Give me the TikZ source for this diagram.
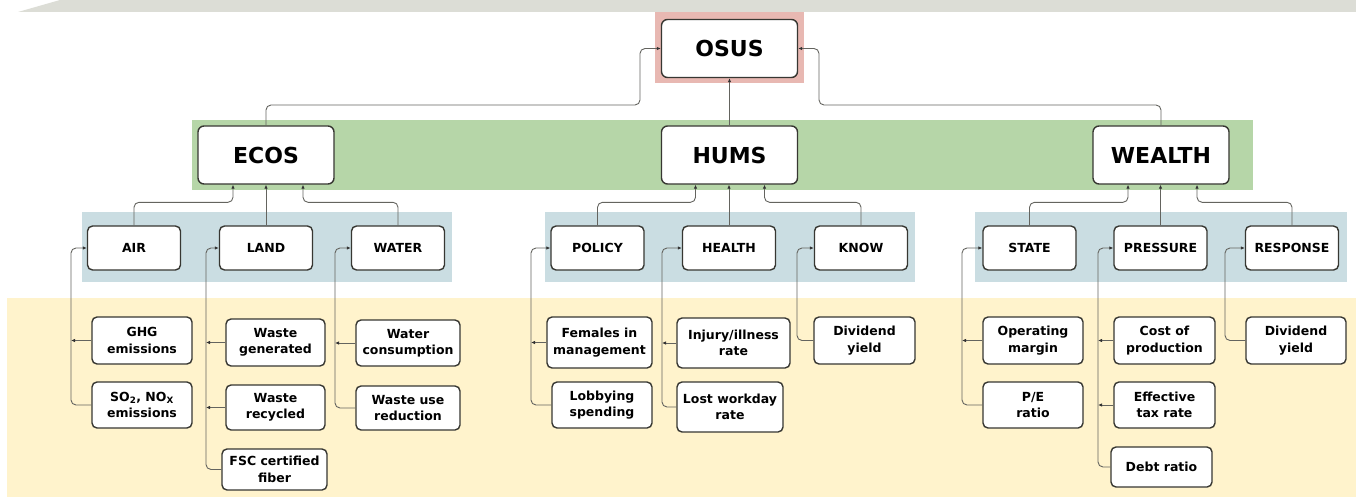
\documentclass[tikz,border=0pt]{standalone}
\usepackage{fontspec}
\setmainfont{DejaVu Sans}
\usetikzlibrary{arrows.meta}
\definecolor{topgray}{RGB}{220,221,214}
\definecolor{pinkbg}{RGB}{232,184,178}
\definecolor{greenbg}{RGB}{182,214,168}
\definecolor{bluebg}{RGB}{202,221,226}
\definecolor{yellowbg}{RGB}{255,243,204}
\definecolor{boxline}{RGB}{55,55,50}
\definecolor{connline}{RGB}{100,100,95}
\tikzset{
  lvlone/.style={draw=boxline, line width=1.4pt, rounded corners=6pt, fill=white,
    minimum width=136pt, minimum height=58pt, font=\bfseries\fontsize{22}{24}\selectfont, inner sep=0pt},
  lvltwo/.style={draw=boxline, line width=1.4pt, rounded corners=5pt, fill=white,
    minimum width=93pt, minimum height=44pt, font=\bfseries\fontsize{12.5}{15}\selectfont, inner sep=0pt},
  lvlthree/.style={draw=boxline, line width=1.4pt, rounded corners=5pt, fill=white,
    minimum width=100pt, minimum height=46pt, align=center,
    font=\bfseries\fontsize{12.5}{16.5}\selectfont, inner sep=0pt},
  conn/.style={draw=connline, line width=0.9pt, rounded corners=5pt},
  arr/.style={-{Latex[length=4pt,width=3.5pt,color=black!80]}},
}
\begin{document}
\begin{tikzpicture}[x=1pt,y=-1pt]
\useasboundingbox (0,0) rectangle (1356,500);
% backgrounds
\fill[topgray] (18,12) -- (60,0) -- (1356,0) -- (1356,12) -- cycle;
\fill[yellowbg] (7,298) rectangle (1356,497);
\fill[pinkbg] (655,12) rectangle (804,83);
\fill[greenbg] (192,120) rectangle (1253,190);
\fill[bluebg] (82,212) rectangle (452,282);
\fill[bluebg] (545,212) rectangle (915,282);
\fill[bluebg] (975,212) rectangle (1347,282);

% level 0 and 1
\node[lvlone] (osus) at (729.5,48.5) {OSUS};
\node[lvlone] (ecos) at (266,155) {ECOS};
\node[lvlone] (hums) at (729.5,155) {HUMS};
\node[lvlone] (wealth) at (1161,155) {WEALTH};

% level 2
\node[lvltwo] (air) at (134,248) {AIR};
\node[lvltwo] (land) at (266,248) {LAND};
\node[lvltwo] (water) at (398,248) {WATER};
\node[lvltwo] (policy) at (597.5,248) {POLICY};
\node[lvltwo] (health) at (729,248) {HEALTH};
\node[lvltwo] (know) at (861,248) {KNOW};
\node[lvltwo] (state) at (1029.5,248) {STATE};
\node[lvltwo] (pressure) at (1160.5,248) {PRESSURE};
\node[lvltwo] (response) at (1292,248) {RESPONSE};

% level 3
\node[lvlthree, minimum height=47pt] (ghg) at (142,340.5) {GHG\\emissions};
\node[lvlthree] (so2) at (142,405) {SO\textsubscript{2}, NO\textsubscript{X}\\emissions};
\node[lvlthree, minimum width=99pt, minimum height=47pt] (wgen) at (275.5,342.5) {Waste\\generated};
\node[lvlthree, minimum width=99pt, minimum height=45pt] (wrec) at (275.5,407.5) {Waste\\recycled};
\node[lvlthree, minimum width=105pt, minimum height=41pt] (fsc) at (274.5,469.5) {FSC certified\\fiber};
\node[lvlthree, minimum width=104pt] (wcons) at (408,343) {Water\\consumption};
\node[lvlthree, minimum width=104pt, minimum height=44pt] (wuse) at (408,408) {Waste use\\reduction};
\node[lvlthree, minimum width=105pt, minimum height=51pt] (fem) at (599.5,342.5) {Females in\\management};
\node[lvlthree] (lob) at (602,405) {Lobbying\\spending};
\node[lvlthree, minimum width=113pt, minimum height=50pt] (inj) at (733.5,343) {Injury/illness\\rate};
\node[lvlthree, minimum width=106pt, minimum height=50pt] (lost) at (730,407) {Lost workday\\rate};
\node[lvlthree, minimum width=101pt, minimum height=47pt] (div1) at (864.5,340.5) {Dividend\\yield};
\node[lvlthree, minimum height=47pt] (opm) at (1033,340.5) {Operating\\margin};
\node[lvlthree] (pe) at (1033,405) {P/E\\ratio};
\node[lvlthree, minimum width=101pt, minimum height=47pt] (cost) at (1164.5,340.5) {Cost of\\production};
\node[lvlthree, minimum width=101pt] (eff) at (1164.5,405) {Effective\\tax rate};
\node[lvlthree, minimum width=101pt, minimum height=40pt] (debt) at (1161.5,467) {Debt ratio};
\node[lvlthree, minimum height=47pt] (div2) at (1296,340.5) {Dividend\\yield};

% trunk coordinates
\coordinate (tair) at (71,0);
\coordinate (tland) at (206,0);
\coordinate (twater) at (335,0);
\coordinate (tpolicy) at (531,0);
\coordinate (thealth) at (662,0);
\coordinate (tknow) at (797,0);
\coordinate (tstate) at (962,0);
\coordinate (tpressure) at (1098,0);
\coordinate (tresponse) at (1225,0);

% level 1 -> OSUS
\coordinate (jl) at (640,105);
\coordinate (jr) at (819,105);
\draw[conn,arr] (ecos.north) |- (jl) |- (osus.west);
\draw[conn,arr] (wealth.north) |- (jr) |- (osus.east);
\draw[conn,arr] (hums.north) -- (osus.south);

% level 2 -> level 1
\draw[conn,arr] (air.north) -- ++(0,-23) -| ([xshift=-33pt]ecos.south);
\draw[conn,arr] (land.north) -- (land.north |- ecos.south);
\draw[conn,arr] (water.north) -- ++(0,-23) -| ([xshift=37pt]ecos.south);
\draw[conn,arr] (policy.north) -- ++(0,-23) -| ([xshift=-34pt]hums.south);
\draw[conn,arr] (health.north) -- (health.north |- hums.south);
\draw[conn,arr] (know.north) -- ++(0,-23) -| ([xshift=35pt]hums.south);
\draw[conn,arr] (state.north) -- ++(0,-23) -| ([xshift=-33pt]wealth.south);
\draw[conn,arr] (pressure.north) -- (pressure.north |- wealth.south);
\draw[conn,arr] (response.north) -- ++(0,-23) -| ([xshift=36pt]wealth.south);

% level 3 -> level 2 : trunks
\draw[conn,arr] (so2.west) -- (so2.west -| tair) -- (air.west -| tair) -- (air.west);
\draw[conn,arr] (ghg.west) -- (ghg.west -| tair);
\draw[conn,arr] (fsc.west) -- (fsc.west -| tland) -- (land.west -| tland) -- (land.west);
\draw[conn,arr] (wgen.west) -- (wgen.west -| tland);
\draw[conn,arr] (wrec.west) -- (wrec.west -| tland);
\draw[conn,arr] (wuse.west) -- (wuse.west -| twater) -- (water.west -| twater) -- (water.west);
\draw[conn,arr] (wcons.west) -- (wcons.west -| twater);
\draw[conn,arr] (lob.west) -- (lob.west -| tpolicy) -- (policy.west -| tpolicy) -- (policy.west);
\draw[conn,arr] (fem.west) -- (fem.west -| tpolicy);
\draw[conn,arr] (lost.west) -- (lost.west -| thealth) -- (health.west -| thealth) -- (health.west);
\draw[conn,arr] (inj.west) -- (inj.west -| thealth);
\draw[conn,arr] (div1.west) -- (div1.west -| tknow) -- (know.west -| tknow) -- (know.west);
\draw[conn,arr] (pe.west) -- (pe.west -| tstate) -- (state.west -| tstate) -- (state.west);
\draw[conn,arr] (opm.west) -- (opm.west -| tstate);
\draw[conn,arr] (debt.west) -- (debt.west -| tpressure) -- (pressure.west -| tpressure) -- (pressure.west);
\draw[conn,arr] (cost.west) -- (cost.west -| tpressure);
\draw[conn,arr] (eff.west) -- (eff.west -| tpressure);
\draw[conn,arr] (div2.west) -- (div2.west -| tresponse) -- (response.west -| tresponse) -- (response.west);
\end{tikzpicture}
\end{document}
